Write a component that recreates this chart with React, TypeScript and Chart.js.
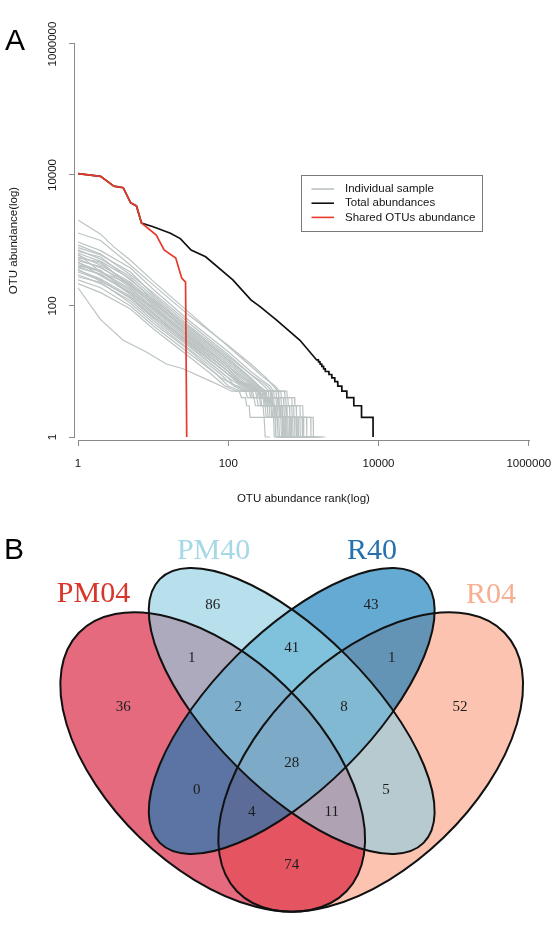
import React, { useEffect, useRef } from 'react';
import { Chart, registerables } from 'chart.js';
Chart.register(...registerables);

const FONT_SANS = '"Liberation Sans", Arial, Helvetica, sans-serif';
const FONT_SERIF = '"Liberation Serif", "Times New Roman", serif';
const AXIS_COLOR = '#8a8a8a';
const TEXT_COLOR = '#151515';

// ---------------- Panel A data ----------------
const X_TICKS = [1, 100, 10000, 1000000];
const Y_TICKS = [1, 100, 10000, 1000000];
const X_TICK_LABELS = ['1', '100', '10000', '1000000'];
const Y_TICK_LABELS = ['1', '100', '10000', '1000000'];
const X_TITLE = 'OTU abundance rank(log)';
const Y_TITLE = 'OTU abundance(log)';
const LEGEND_LABELS = ['Individual sample', 'Total abundances', 'Shared OTUs abundance'];
const SERIES_COLORS = ['#bcc3c3', '#111111', '#e63a2c'];

type Pt = [number, number];

const SAMPLE_01: Pt[] = [[1,2050],[2,1250],[3,800],[5,500],[10,240],[30,80],[100,24],[200,12],[300,8],[420,6],[480,5],[600,5],[610,4],[760,4],[770,3],[980,3],[990,2],[1350,2],[1360,1],[1950,1]];
const SAMPLE_02: Pt[] = [[1,1300],[2,1000],[5,420],[10,210],[30,72],[100,25],[200,13],[320,8],[400,6],[450,5],[560,5],[570,4],[700,4],[710,3],[900,3],[910,2],[1250,2],[1260,1],[1800,1]];
const SAMPLE_03: Pt[] = [[1,950],[2,700],[5,380],[10,180],[30,60],[100,20],[200,10],[300,7],[360,6],[400,5],[500,5],[510,4],[620,4],[630,3],[800,3],[810,2],[1100,2],[1110,1],[1600,1]];
const SAMPLE_04: Pt[] = [[1,850],[2,620],[5,300],[10,160],[30,55],[100,18],[200,9],[280,7],[330,6],[380,5],[460,5],[470,4],[580,4],[590,3],[740,3],[750,2],[1000,2],[1010,1],[1450,1]];
const SAMPLE_05: Pt[] = [[1,780],[2,600],[5,330],[10,150],[30,50],[100,17],[200,9],[300,6],[350,5],[430,5],[440,4],[540,4],[550,3],[700,3],[710,2],[960,2],[970,1],[1400,1]];
const SAMPLE_06: Pt[] = [[1,720],[2,520],[5,280],[10,140],[30,46],[100,16],[200,8],[260,6],[320,5],[400,5],[410,4],[500,4],[510,3],[650,3],[660,2],[900,2],[910,1],[1300,1]];
const SAMPLE_07: Pt[] = [[1,680],[2,560],[5,250],[10,130],[30,44],[100,15],[200,8],[250,6],[300,5],[380,5],[390,4],[470,4],[480,3],[600,3],[610,2],[850,2],[860,1],[1250,1]];
const SAMPLE_08: Pt[] = [[1,640],[2,480],[5,260],[10,120],[30,42],[100,14],[180,8],[240,6],[290,5],[360,5],[370,4],[450,4],[460,3],[580,3],[590,2],[800,2],[810,1],[1200,1]];
const SAMPLE_09: Pt[] = [[1,600],[2,420],[5,230],[10,115],[30,40],[100,13],[170,8],[230,6],[270,5],[340,5],[350,4],[430,4],[440,3],[550,3],[560,2],[760,2],[770,1],[1100,1]];
const SAMPLE_10: Pt[] = [[1,560],[2,450],[5,210],[10,110],[30,38],[100,12],[160,8],[220,6],[260,5],[320,5],[330,4],[400,4],[410,3],[520,3],[530,2],[720,2],[730,1],[1050,1]];
const SAMPLE_11: Pt[] = [[1,520],[2,380],[5,220],[10,100],[30,36],[100,12],[150,8],[210,6],[250,5],[300,5],[310,4],[380,4],[390,3],[500,3],[510,2],[680,2],[690,1],[1000,1]];
const SAMPLE_12: Pt[] = [[1,490],[2,400],[5,190],[10,95],[30,34],[100,11],[150,7],[200,6],[240,5],[290,5],[300,4],[360,4],[370,3],[470,3],[480,2],[650,2],[660,1],[950,1]];
const SAMPLE_13: Pt[] = [[1,460],[2,340],[5,180],[10,90],[30,32],[100,10],[140,7],[190,6],[230,5],[280,5],[290,4],[350,4],[360,3],[450,3],[460,2],[620,2],[630,1],[900,1]];
const SAMPLE_14: Pt[] = [[1,430],[2,330],[5,170],[10,85],[30,30],[100,10],[140,7],[180,6],[220,5],[270,5],[280,4],[340,4],[350,3],[430,3],[440,2],[600,2],[610,1],[860,1]];
const SAMPLE_15: Pt[] = [[1,400],[2,300],[5,160],[10,80],[30,28],[100,9],[130,7],[170,6],[210,5],[260,5],[270,4],[320,4],[330,3],[410,3],[420,2],[570,2],[580,1],[820,1]];
const SAMPLE_16: Pt[] = [[1,380],[2,310],[5,150],[10,75],[30,27],[100,9],[130,7],[160,6],[200,5],[250,5],[260,4],[310,4],[320,3],[400,3],[410,2],[550,2],[560,1],[780,1]];
const SAMPLE_17: Pt[] = [[1,350],[2,260],[5,140],[10,70],[30,25],[100,8],[120,7],[150,6],[190,5],[240,5],[250,4],[300,4],[310,3],[380,3],[390,2],[520,2],[530,1],[740,1]];
const SAMPLE_18: Pt[] = [[1,330],[2,250],[5,130],[10,65],[30,24],[100,8],[120,6],[140,6],[180,5],[230,5],[240,4],[290,4],[300,3],[370,3],[380,2],[500,2],[510,1],[700,1]];
const SAMPLE_19: Pt[] = [[1,300],[2,220],[5,120],[10,60],[30,22],[80,9],[100,7],[130,6],[170,5],[210,5],[220,4],[270,4],[280,3],[350,3],[360,2],[470,2],[480,1],[660,1]];
const SAMPLE_20: Pt[] = [[1,280],[2,230],[5,110],[10,55],[30,21],[80,8],[100,7],[120,6],[160,5],[200,5],[210,4],[260,4],[270,3],[330,3],[340,2],[450,2],[460,1],[620,1]];
const SAMPLE_21: Pt[] = [[1,250],[2,190],[5,100],[10,50],[30,19],[70,9],[100,6],[150,5],[190,5],[200,4],[240,4],[250,3],[310,3],[320,2],[420,2],[430,1],[580,1]];
const SAMPLE_22: Pt[] = [[1,220],[2,160],[5,90],[10,45],[30,17],[60,9],[90,6],[130,5],[170,5],[180,4],[220,4],[230,3],[290,3],[300,2],[400,2],[410,1],[540,1]];
const SAMPLE_23: Pt[] = [[1,190],[2,62],[4,30],[8,20],[15,13],[25,11],[60,7],[80,6],[110,5],[140,5],[150,4],[170,4],[175,3],[190,3],[195,2],[300,2],[310,1],[360,1]];
const SAMPLE_24: Pt[] = [[1,620],[2,330],[4,240],[10,125],[30,48],[100,15],[190,8],[250,6],[300,5],[370,5],[380,4],[460,4],[470,3],[590,3],[600,2],[820,2],[830,1],[1180,1]];
const SAMPLE_25: Pt[] = [[1,540],[2,470],[5,200],[10,105],[30,33],[100,11],[150,7],[210,6],[250,5],[310,5],[320,4],[390,4],[400,3],[490,3],[500,2],[690,2],[700,1],[980,1]];
const SAMPLE_26: Pt[] = [[1,470],[2,290],[5,160],[10,92],[30,35],[100,12],[160,7],[200,6],[240,5],[300,5],[310,4],[370,4],[380,3],[480,3],[490,2],[660,2],[670,1],[930,1]];
const SAMPLE_27: Pt[] = [[1,410],[2,350],[5,150],[10,78],[30,26],[100,9],[140,7],[170,6],[210,5],[260,5],[270,4],[330,4],[340,3],[420,3],[430,2],[580,2],[590,1],[830,1]];
const SAMPLE_28: Pt[] = [[1,360],[2,240],[5,135],[10,68],[30,29],[100,10],[140,7],[180,6],[220,5],[260,5],[270,4],[320,4],[330,3],[400,3],[410,2],[540,2],[550,1],[760,1]];

const SAMPLES: Pt[][] = [
  SAMPLE_01, SAMPLE_02, SAMPLE_03, SAMPLE_04, SAMPLE_05, SAMPLE_06, SAMPLE_07, SAMPLE_08,
  SAMPLE_09, SAMPLE_10, SAMPLE_11, SAMPLE_12, SAMPLE_13, SAMPLE_14, SAMPLE_15, SAMPLE_16,
  SAMPLE_17, SAMPLE_18, SAMPLE_19, SAMPLE_20, SAMPLE_21, SAMPLE_22, SAMPLE_23, SAMPLE_24,
  SAMPLE_25, SAMPLE_26, SAMPLE_27, SAMPLE_28,
];

const TOTAL_ABUNDANCE: Pt[] = [
  [1,10470],[2,9550],[3,6760],[4,6400],[5,3780],[6,3370],[7,1850],[10,1620],[17,1290],[23,1070],
  [32,716],[50,565],[115,250],[200,124],[265,98],[440,61],[900,30],[1500,15],[1580,15],[1590,14],
  [1660,14],[1670,13],[1750,13],[1760,12],[1850,12],[1860,11],[1950,11],[1960,10],[2180,10],[2190,9],
  [2380,9],[2390,8],[2610,8],[2620,7],[2860,7],[2870,6],[3240,6],[3250,5],[3780,5],[3790,4],
  [4680,4],[4690,3],[5930,3],[5940,2],[8450,2],[8460,1],
];

const SHARED_ABUNDANCE: Pt[] = [
  [1,10470],[2,9550],[3,6760],[4,6400],[5,3780],[6,3370],[7,1850],[11,1210],[14,716],[20,540],
  [24,268],[27,232],[28,1],
];

// ---------------- Panel B data ----------------
const VENN_SETS = ['PM04', 'PM40', 'R40', 'R04'];
const VENN_FILL_COLORS = ['#d61635', '#90cfe1', '#0e7ab9', '#faa384'];
const VENN_LABEL_COLORS = ['#d9352a', '#a6d8e8', '#2670ae', '#f8ae93'];
const VENN_REGIONS = [
  'PM04', 'PM40', 'R40', 'R04',
  'PM04∩PM40', 'PM40∩R40', 'R40∩R04', 'PM04∩R40', 'PM40∩R04', 'PM04∩R04',
  'PM04∩PM40∩R40', 'PM40∩R40∩R04', 'PM04∩R40∩R04', 'PM04∩PM40∩R04',
  'PM04∩PM40∩R40∩R04',
];
const VENN_COUNTS = [36, 86, 43, 52, 1, 41, 1, 0, 5, 74, 2, 8, 4, 11, 28];

// layout of the Venn (layout units = pixels of the panel)
const VENN_ELLIPSES = [
  { cx: 212.7, cy: 242, a: 186, b: 105, rot: 44 },
  { cx: 291.7, cy: 191, a: 186.5, b: 78, rot: 45 },
  { cx: 291.7, cy: 191, a: 186.5, b: 78, rot: -45 },
  { cx: 370.7, cy: 242, a: 186, b: 105, rot: -44 },
];
const VENN_DRAW_ORDER = [3, 0, 2, 1];
const VENN_FILL_ALPHA = 0.64;
const VENN_COUNT_POS: Pt[] = [
  [123.3, 186.7], [212.7, 85], [371, 85], [460, 186.7],
  [191.7, 138.3], [291.7, 128.3], [391.7, 138.3], [196.7, 270], [386, 270], [291.7, 345],
  [238.3, 186.7], [344, 186.7], [251.7, 291.7], [331.7, 291.7],
  [291.7, 243.3],
];
const VENN_SET_LABEL_POS: Pt[] = [[93.5, 74], [213.6, 31], [372, 31], [491, 75]];

const toXY = (pts: Pt[]) => pts.map(([x, y]) => ({ x, y }));

const CANVAS_A_H = 520;
const CANVAS_B_H = 420;

const panelAPlugin = {
  id: 'panelA',
  afterDraw(chart: any) {
    const { ctx, chartArea, scales } = chart;
    const x = scales.x;
    const y = scales.y;
    ctx.save();
    ctx.strokeStyle = AXIS_COLOR;
    ctx.lineWidth = 1;
    const xb = Math.round(chartArea.bottom) + 0.5;
    ctx.beginPath();
    ctx.moveTo(Math.round(x.getPixelForValue(X_TICKS[0])), xb);
    ctx.lineTo(Math.round(x.getPixelForValue(X_TICKS[X_TICKS.length - 1])) + 1, xb);
    ctx.stroke();
    const yl = Math.round(chartArea.left) - 0.5;
    ctx.beginPath();
    ctx.moveTo(yl, Math.round(y.getPixelForValue(Y_TICKS[0])) + 1);
    ctx.lineTo(yl, Math.round(y.getPixelForValue(Y_TICKS[Y_TICKS.length - 1])));
    ctx.stroke();

    ctx.fillStyle = TEXT_COLOR;
    ctx.font = `11.5px ${FONT_SANS}`;
    ctx.textAlign = 'center';
    ctx.textBaseline = 'middle';
    X_TICKS.forEach((v, i) => {
      ctx.fillText(X_TICK_LABELS[i], x.getPixelForValue(v), chartArea.bottom + 24);
    });
    Y_TICKS.forEach((v, i) => {
      ctx.save();
      ctx.translate(chartArea.left - 22, y.getPixelForValue(v));
      ctx.rotate(-Math.PI / 2);
      ctx.fillText(Y_TICK_LABELS[i], 0, 0);
      ctx.restore();
    });

    const xMid = (x.getPixelForValue(X_TICKS[0]) + x.getPixelForValue(X_TICKS[X_TICKS.length - 1])) / 2;
    ctx.fillText(X_TITLE, xMid, chartArea.bottom + 59);
    const yMid = (y.getPixelForValue(Y_TICKS[0]) + y.getPixelForValue(Y_TICKS[Y_TICKS.length - 1])) / 2;
    ctx.save();
    ctx.translate(chartArea.left - 61, yMid);
    ctx.rotate(-Math.PI / 2);
    ctx.fillText(Y_TITLE, 0, 0);
    ctx.restore();

    const lx = chartArea.left + 226.5;
    const ly = 175.5;
    ctx.strokeStyle = '#7a7a7a';
    ctx.lineWidth = 1;
    ctx.strokeRect(lx, ly, 181, 56);
    ctx.textAlign = 'left';
    LEGEND_LABELS.forEach((lab, i) => {
      const rowY = ly + 13.5 + i * 14.2;
      ctx.strokeStyle = SERIES_COLORS[i];
      ctx.lineWidth = 1.6;
      ctx.beginPath();
      ctx.moveTo(lx + 10, rowY);
      ctx.lineTo(lx + 32.5, rowY);
      ctx.stroke();
      ctx.fillStyle = TEXT_COLOR;
      ctx.fillText(lab, lx + 43.5, rowY);
    });

    ctx.font = `30px ${FONT_SANS}`;
    ctx.textAlign = 'center';
    ctx.fillStyle = '#000';
    ctx.fillText('A', 15, 42);
    ctx.restore();
  },
};

const vennPlugin = {
  id: 'venn',
  beforeDatasetsDraw(chart: any) {
    const { ctx, scales } = chart;
    const x = scales.x;
    const y = scales.y;
    const geo = VENN_ELLIPSES.map((e) => {
      const px = x.getPixelForValue(e.cx);
      const py = y.getPixelForValue(e.cy);
      const ra = Math.abs(x.getPixelForValue(e.cx + e.a) - px);
      const rb = Math.abs(x.getPixelForValue(e.cx + e.b) - px);
      return { px, py, ra, rb, rot: (e.rot * Math.PI) / 180 };
    });
    ctx.save();
    VENN_DRAW_ORDER.forEach((i) => {
      const g = geo[i];
      ctx.globalAlpha = VENN_FILL_ALPHA;
      ctx.fillStyle = VENN_FILL_COLORS[i];
      ctx.beginPath();
      ctx.ellipse(g.px, g.py, g.ra, g.rb, g.rot, 0, Math.PI * 2);
      ctx.fill();
    });
    ctx.globalAlpha = 1;
    ctx.strokeStyle = '#111';
    ctx.lineWidth = 2;
    VENN_DRAW_ORDER.forEach((i) => {
      const g = geo[i];
      ctx.beginPath();
      ctx.ellipse(g.px, g.py, g.ra, g.rb, g.rot, 0, Math.PI * 2);
      ctx.stroke();
    });
    ctx.restore();
  },
  afterDatasetsDraw(chart: any) {
    const { ctx, scales } = chart;
    const x = scales.x;
    const y = scales.y;
    ctx.save();
    ctx.textAlign = 'center';
    ctx.textBaseline = 'middle';
    ctx.fillStyle = '#1c1c1c';
    ctx.font = `15px ${FONT_SERIF}`;
    const meta = chart.getDatasetMeta(0);
    meta.data.forEach((el: any, i: number) => {
      ctx.fillText(String(VENN_COUNTS[i]), el.x, el.y);
    });
    ctx.font = `30px ${FONT_SERIF}`;
    VENN_SETS.forEach((name, i) => {
      ctx.fillStyle = VENN_LABEL_COLORS[i];
      ctx.fillText(name, x.getPixelForValue(VENN_SET_LABEL_POS[i][0]), y.getPixelForValue(VENN_SET_LABEL_POS[i][1]));
    });
    ctx.font = `30px ${FONT_SANS}`;
    ctx.fillStyle = '#000';
    ctx.fillText('B', 14, 31);
    ctx.restore();
  },
};

export default function App() {
  const refA = useRef<HTMLCanvasElement | null>(null);
  const refB = useRef<HTMLCanvasElement | null>(null);

  useEffect(() => {
    document.body.style.margin = '0';
    const grayDatasets = SAMPLES.map((s, i) => ({
      label: i === 0 ? LEGEND_LABELS[0] : `sample ${i + 1}`,
      data: toXY(s),
      showLine: true,
      borderColor: SERIES_COLORS[0],
      borderWidth: 1.2,
      pointRadius: 0,
      fill: false,
      tension: 0,
      order: 2,
    }));
    const chartA = new Chart(refA.current as HTMLCanvasElement, {
      type: 'scatter',
      data: {
        datasets: [
          ...grayDatasets,
          {
            label: LEGEND_LABELS[1],
            data: toXY(TOTAL_ABUNDANCE),
            showLine: true,
            borderColor: SERIES_COLORS[1],
            borderWidth: 1.7,
            pointRadius: 0,
            fill: false,
            tension: 0,
            order: 1,
          },
          {
            label: LEGEND_LABELS[2],
            data: toXY(SHARED_ABUNDANCE),
            showLine: true,
            borderColor: SERIES_COLORS[2],
            borderWidth: 1.7,
            pointRadius: 0,
            fill: false,
            tension: 0,
            order: 0,
          },
        ],
      } as any,
      options: {
        animation: false,
        responsive: false,
        events: [],
        layout: { padding: { left: 69, right: 23, top: 41, bottom: CANVAS_A_H - 446 } },
        scales: {
          x: {
            type: 'logarithmic',
            min: 0.912,
            max: 1.07e6,
            afterBuildTicks: (s: any) => { s.ticks = X_TICKS.map((v) => ({ value: v })); },
            ticks: { display: false },
            grid: { drawOnChartArea: false, drawTicks: true, tickLength: 6, color: AXIS_COLOR, lineWidth: 1 },
            border: { display: false },
          },
          y: {
            type: 'logarithmic',
            min: 0.9,
            max: 1.111e6,
            afterBuildTicks: (s: any) => { s.ticks = Y_TICKS.map((v) => ({ value: v })); },
            ticks: { display: false },
            grid: { drawOnChartArea: false, drawTicks: true, tickLength: 6, color: AXIS_COLOR, lineWidth: 1 },
            border: { display: false },
          },
        },
        plugins: { legend: { display: false }, tooltip: { enabled: false } },
      } as any,
      plugins: [panelAPlugin],
    });

    const chartB = new Chart(refB.current as HTMLCanvasElement, {
      type: 'scatter',
      data: {
        datasets: [
          {
            label: 'counts',
            data: VENN_COUNT_POS.map(([px, py], i) => ({ x: px, y: py, region: VENN_REGIONS[i] })),
            pointRadius: 0,
            showLine: false,
          },
        ],
      } as any,
      options: {
        animation: false,
        responsive: false,
        events: [],
        layout: { padding: 0 },
        scales: {
          x: { type: 'linear', min: 0, max: 554, display: false },
          y: { type: 'linear', min: 0, max: CANVAS_B_H, reverse: true, display: false },
        },
        plugins: { legend: { display: false }, tooltip: { enabled: false } },
      } as any,
      plugins: [vennPlugin],
    });

    return () => {
      chartA.destroy();
      chartB.destroy();
    };
  }, []);

  return (
    <div style={{ width: 554, background: '#fff' }}>
      <canvas ref={refA} width={554} height={CANVAS_A_H} style={{ display: 'block' }} />
      <canvas ref={refB} width={554} height={CANVAS_B_H} style={{ display: 'block' }} />
    </div>
  );
}
